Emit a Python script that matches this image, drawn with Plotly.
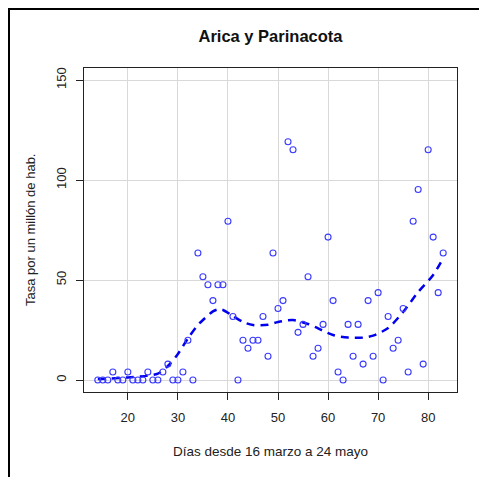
import plotly.graph_objects as go

# ---- data ----
unit = 3.97  # rate of one case per million inhabitants
days = list(range(14, 84))
cases = [0, 0, 0, 1, 0, 0, 1, 0, 0, 0,      # 14-23
         1, 0, 0, 1, 2, 0, 0, 1, 5, 0,      # 24-33
         16, 13, 12, 10, 12, 12, 20, 8, 0, 5,  # 34-43
         4, 5, 5, 8, 3, 16, 9, 10, 30, 29,  # 44-53
         6, 7, 13, 3, 4, 7, 18, 10, 1, 0,   # 54-63
         7, 3, 7, 2, 10, 3, 11, 0, 8, 4,    # 64-73
         5, 9, 1, 20, 24, 2, 29, 18, 11, 16]  # 74-83
rates = [round(c * unit, 2) for c in cases]

smooth_days = [14, 16, 20, 24, 26, 28, 30, 32, 34, 35, 37, 38, 39, 41, 43, 45,
               48, 50, 53, 56, 58, 61, 64, 67, 69, 72, 75, 78, 81, 83]
smooth_vals = [0.5, 0.7, 1.3, 2.2, 3.2, 7.0, 13.0, 20.8, 27.5, 30.0, 34.3, 35.3,
               35.0, 32.0, 29.0, 27.5, 27.6, 29.0, 30.0, 28.0, 25.8, 22.5, 21.2,
               21.2, 22.2, 26.0, 34.0, 44.0, 52.5, 61.0]

x_ticks = [20, 30, 40, 50, 60, 70, 80]
y_ticks = [0, 50, 100, 150]

title_text = "Arica y Parinacota"
x_title = "Días desde 16 marzo a 24 mayo"
y_title = "Tasa por un millón de hab."

FONT = "Liberation Sans, Arial, sans-serif"
OFF = 8  # page body margin
W, H = 487 - OFF, 477 - OFF
L, T = 84 - OFF, 68 - OFF
R = W - (457 - OFF)
B = H - (392 - OFF)
pw, ph = W - L - R, H - T - B

def px_x(p):  # reference page pixel -> paper x
    return (p - OFF - L) / pw

def px_y(p):  # reference page pixel -> paper y
    return (H - B - (p - OFF)) / ph

fig = go.Figure()
fig.add_trace(go.Scatter(
    x=smooth_days, y=smooth_vals, mode="lines",
    line=dict(color="#0000ee", width=2.5, dash="8px,6px", shape="spline", smoothing=0.8),
    hoverinfo="skip", showlegend=False))
fig.add_trace(go.Scatter(
    x=days, y=rates, mode="markers",
    marker=dict(symbol="circle-open", size=6, color="#3b3bff", line=dict(width=1.1, color="#3b3bff")),
    showlegend=False))

axis_common = dict(
    showline=True, linecolor="#222", linewidth=1, mirror=True,
    showgrid=True, gridcolor="#d9d9d9", gridwidth=1,
    ticks="outside", ticklen=7, tickcolor="#222", tickwidth=1,
    tickfont=dict(family=FONT, size=13, color="#222"),
    zeroline=False,
)
fig.update_xaxes(range=[11.24, 85.76], tickvals=x_ticks, ticklabelstandoff=6, **axis_common)
fig.update_yaxes(range=[-6, 156], tickvals=y_ticks, tickangle=-90, ticklabelstandoff=5, **axis_common)

fig.update_layout(
    width=W, height=H,
    margin=dict(l=L, r=R, t=T, b=B, pad=0),
    paper_bgcolor="white", plot_bgcolor="white",
    title=dict(text="<b>" + title_text + "</b>", x=(L + pw / 2) / W, xanchor="center",
               y=1 - (36 - OFF) / H, yanchor="middle",
               font=dict(family=FONT, size=16.5, color="#111")),
    annotations=[
        dict(text=x_title, xref="paper", yref="paper", x=0.5, y=px_y(451),
             xanchor="center", yanchor="middle", showarrow=False,
             font=dict(family=FONT, size=13.5, color="#222")),
        dict(text=y_title, xref="paper", yref="paper", x=px_x(30), y=0.5,
             xanchor="center", yanchor="middle", textangle=-90, showarrow=False,
             font=dict(family=FONT, size=13, color="#222")),
    ],
    shapes=[
        dict(type="line", xref="paper", yref="paper", x0=-L / pw + 1 / pw, x1=-L / pw + 1 / pw,
             y0=-B / ph, y1=(ph + T) / ph, line=dict(color="black", width=2)),
        dict(type="line", xref="paper", yref="paper", x0=-L / pw, x1=(pw + R) / pw,
             y0=(ph + T - 1) / ph, y1=(ph + T - 1) / ph, line=dict(color="black", width=2)),
    ],
)

fig.write_html("out.html")
